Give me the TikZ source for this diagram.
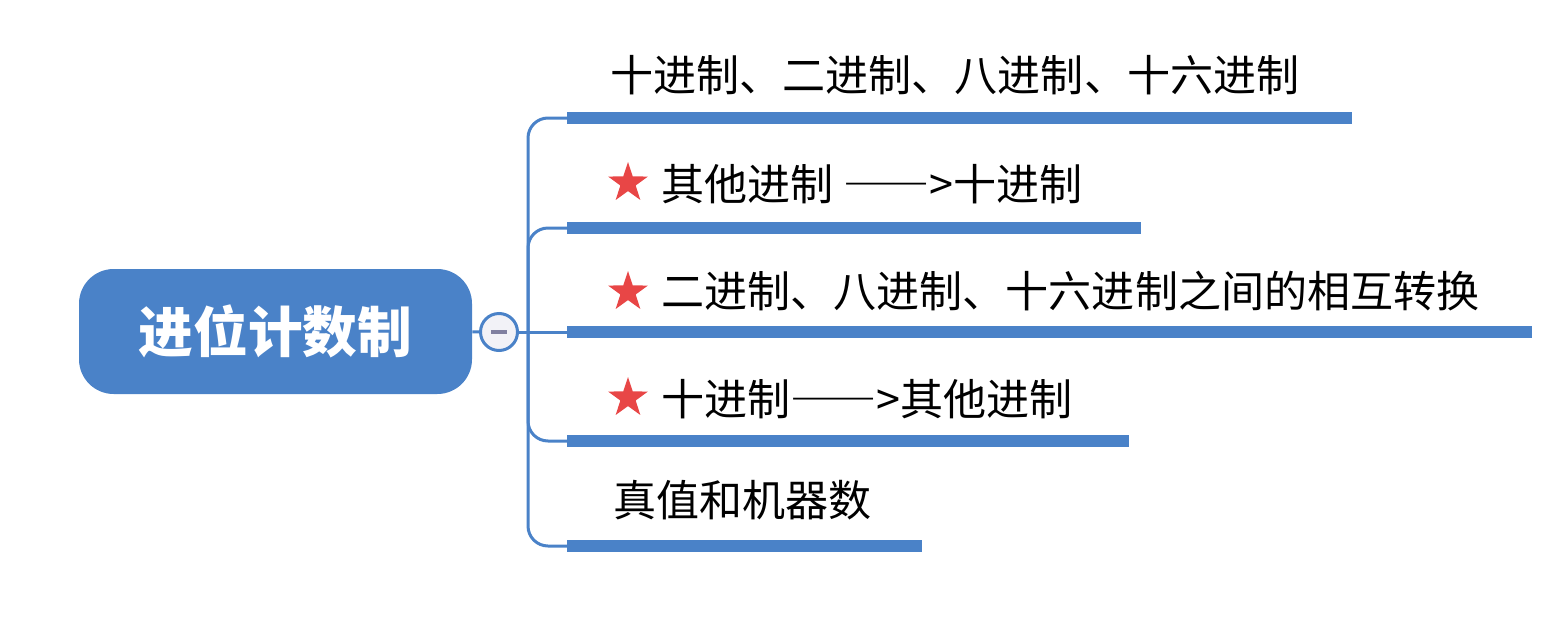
\documentclass[tikz,border=0pt]{standalone}
\usepackage{fontspec}
\newfontfamily\cjk{Noto Sans CJK SC}
\usetikzlibrary{shapes.geometric}
\definecolor{mapblue}{RGB}{74,130,200}
\definecolor{starred}{RGB}{232,70,70}
\definecolor{foldgray}{RGB}{242,242,247}
\definecolor{minusgray}{RGB}{128,128,160}
\newcommand{\longdash}{{\addfontfeature{RawFeature=+fwid}——}}
\tikzset{
	topic/.style={anchor=west, inner sep=0pt, font=\cjk\fontsize{32.3}{38}\selectfont},
	bar/.style={line width=9pt, color=mapblue},
	twig/.style={line width=2.25pt, color=mapblue, rounded corners=15pt},
	keystar/.style={star, star points=5, star point ratio=2.6, fill=starred, minimum size=31.5pt, inner sep=0pt}
}

\begin{document}
\begin{tikzpicture}[x=0.75pt, y=-0.75pt]
			%%%%% START %%%%%
			\useasboundingbox (0,0) rectangle (1555,632);
			
			\node[fill=mapblue, rounded corners=26pt, minimum width=294.75pt, minimum height=93.75pt, text=white, font=\cjk\bfseries\fontsize{41}{48}\selectfont] (root) at (275.5,331.5) {进位计数制};
			\node[circle, draw=mapblue, line width=2.25pt, fill=foldgray, minimum size=27.75pt, inner sep=0pt] (fold) at (499,332) {};
			\draw[minusgray, line width=3pt] (491,332) -- (507,332);
			
			\coordinate (hub) at (528,332);
			\coordinate (b1) at (567,118);
			\coordinate (b2) at (567,228);
			\coordinate (b3) at (567,332);
			\coordinate (b4) at (567,441);
			\coordinate (b5) at (567,546);
			
			\draw[twig] (root) -- (fold);
			\draw[twig] (fold) -- (b3);
			\draw[twig] (b1) -| (hub);
			\draw[twig] (b2) -| (hub);
			\draw[twig] (b4) -| (hub);
			\draw[twig] (b5) -| (hub);
			
			\draw[bar] (b1) -- (1352,118);
			\draw[bar] (b2) -- (1141,228);
			\draw[bar] (b3) -- (1532,332);
			\draw[bar] (b4) -- (1129,441);
			\draw[bar] (b5) -- (922,546);
			
			\node[topic] (t1) at (610,75) {十进制、二进制、八进制、十六进制};
			\node[keystar] (s2) at (628,183) {};
			\node[topic] (t2) at (661,184) {其他进制 \longdash>十进制};
			\node[keystar] (s3) at (628,292) {};
			\node[topic] (t3) at (661,291) {二进制、八进制、十六进制之间的相互转换};
			\node[keystar] (s4) at (628,398) {};
			\node[topic] (t4) at (661,399) {十进制\longdash>其他进制};
			\node[topic] (t5) at (613,500) {真值和机器数};
			
			%%%%% END %%%%%
\end{tikzpicture}
\end{document}
